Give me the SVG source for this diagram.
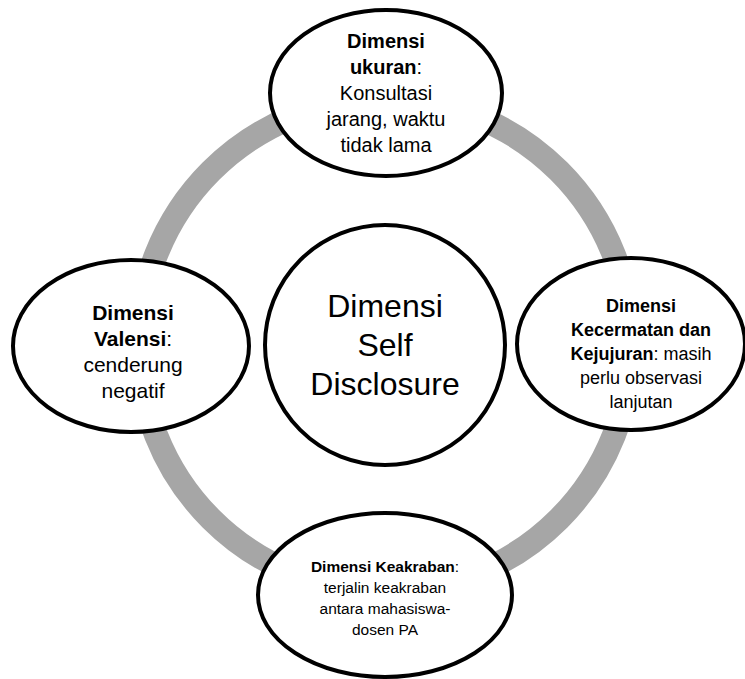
<svg xmlns="http://www.w3.org/2000/svg" width="745" height="679" viewBox="0 0 745 679">
<style>
.node{fill:#ffffff;stroke:#000000;stroke-width:4}
.ring{fill:none;stroke:#A6A6A6;stroke-width:24}
text{font-family:"Liberation Sans",Arial,sans-serif;fill:#000000;text-anchor:middle}
.b{font-weight:bold}
</style>
<rect width="745" height="679" fill="#ffffff"/>
<g id="connectors">
<circle class="ring" cx="385" cy="345" r="246"/>
</g>
<g id="center">
<circle class="node" cx="385" cy="345" r="120" stroke-width="3.5"/>
<text font-size="32"><tspan x="385" y="317">Dimensi</tspan><tspan x="385" y="356">Self</tspan><tspan x="385" y="395">Disclosure</tspan></text>
</g>
<g id="node-top">
<ellipse class="node" cx="386" cy="93" rx="116" ry="83"/>
<text font-size="20"><tspan x="386" y="48" class="b">Dimensi</tspan><tspan x="386" y="74"><tspan class="b">ukuran</tspan>:</tspan><tspan x="386" y="100">Konsultasi</tspan><tspan x="386" y="126">jarang, waktu</tspan><tspan x="386" y="152">tidak lama</tspan></text>
</g>
<g id="node-left">
<ellipse class="node" cx="131" cy="346" rx="118" ry="86"/>
<text font-size="21"><tspan x="133" y="320" class="b">Dimensi</tspan><tspan x="133" y="346"><tspan class="b">Valensi</tspan>:</tspan><tspan x="133" y="372">cenderung</tspan><tspan x="133" y="398">negatif</tspan></text>
</g>
<g id="node-right">
<ellipse class="node" cx="631" cy="344" rx="114" ry="86"/>
<text font-size="18"><tspan x="641" y="312" class="b">Dimensi</tspan><tspan x="641" y="336" class="b">Kecermatan dan</tspan><tspan x="641" y="360"><tspan class="b">Kejujuran</tspan>: masih</tspan><tspan x="641" y="384">perlu observasi</tspan><tspan x="641" y="408">lanjutan</tspan></text>
</g>
<g id="node-bottom">
<ellipse class="node" cx="385" cy="595" rx="127" ry="82"/>
<text font-size="15.5"><tspan x="385" y="572"><tspan class="b">Dimensi Keakraban</tspan>:</tspan><tspan x="385" y="593">terjalin keakraban</tspan><tspan x="385" y="614">antara mahasiswa-</tspan><tspan x="385" y="635">dosen PA</tspan></text>
</g>
</svg>
